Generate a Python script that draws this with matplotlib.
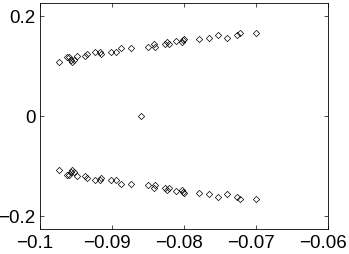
import matplotlib
matplotlib.use("Agg")
import matplotlib.pyplot as plt
import matplotlib.transforms as mtransforms
import numpy as np

# Upper branch (complex eigenvalues with positive imaginary part)
re_upper = [-0.09732, -0.0963, -0.09593, -0.09575, -0.09561, -0.09528, -0.09482,
            -0.09376, -0.09353, -0.09242, -0.09168, -0.09154, -0.09010, -0.08946,
            -0.08872, -0.08738, -0.08506, -0.08418, -0.08400, -0.08261, -0.08234,
            -0.08206, -0.08113, -0.08035, -0.08021, -0.07998, -0.07794, -0.07660,
            -0.07535, -0.07406, -0.07262, -0.07216, -0.07003]
im_upper = [0.1087, 0.118, 0.118, 0.1127, 0.1087, 0.1113, 0.1207,
            0.1193, 0.1233, 0.1287, 0.1287, 0.1233, 0.1287, 0.1287,
            0.1367, 0.1367, 0.138, 0.1447, 0.138, 0.1433, 0.1487,
            0.1447, 0.15, 0.1487, 0.1513, 0.154, 0.154, 0.1567,
            0.162, 0.1567, 0.162, 0.166, 0.1667]
# Lower branch (conjugates)
re_lower = list(re_upper)
im_lower = [-v for v in im_upper]
# Real eigenvalue
re_real = [-0.08603]
im_real = [0.0]

x_ticks = [-0.1, -0.09, -0.08, -0.07, -0.06]
x_tick_labels = ["\u22120.1", "\u22120.09", "\u22120.08", "\u22120.07", "\u22120.06"]
y_ticks = [-0.2, 0.0, 0.2]
y_tick_labels = ["\u22120.2", "0", "0.2"]

plt.rcParams['font.family'] = ['Liberation Sans', 'DejaVu Sans']

fig = plt.figure(figsize=(3.49, 2.54), dpi=100)
ax = fig.add_axes([0.1146, 0.097, 0.8254, 0.892])

xs = re_upper + re_lower + re_real
ys = im_upper + im_lower + im_real
ax.plot(xs, ys, linestyle='none', marker='D', markersize=3.2,
        markerfacecolor='none', markeredgecolor='black', markeredgewidth=0.5)

ax.set_xlim(-0.1, -0.06)
ax.set_ylim(-0.2266, 0.2266)
ax.set_xticks(x_ticks)
ax.set_xticklabels(x_tick_labels)
ax.set_yticks(y_ticks)
ax.set_yticklabels(y_tick_labels)
ax.tick_params(direction='in', top=True, right=True, length=3, width=0.5,
               labelsize=13.5, pad=3, colors='black')
ax.tick_params(axis='x', pad=4)
for s in ax.spines.values():
    s.set_linewidth(0.6)

offset = mtransforms.ScaledTranslation(-5 / 100, 0, fig.dpi_scale_trans)
for lbl in ax.get_xticklabels():
    lbl.set_transform(lbl.get_transform() + offset)

fig.savefig("out.png", dpi=100)
